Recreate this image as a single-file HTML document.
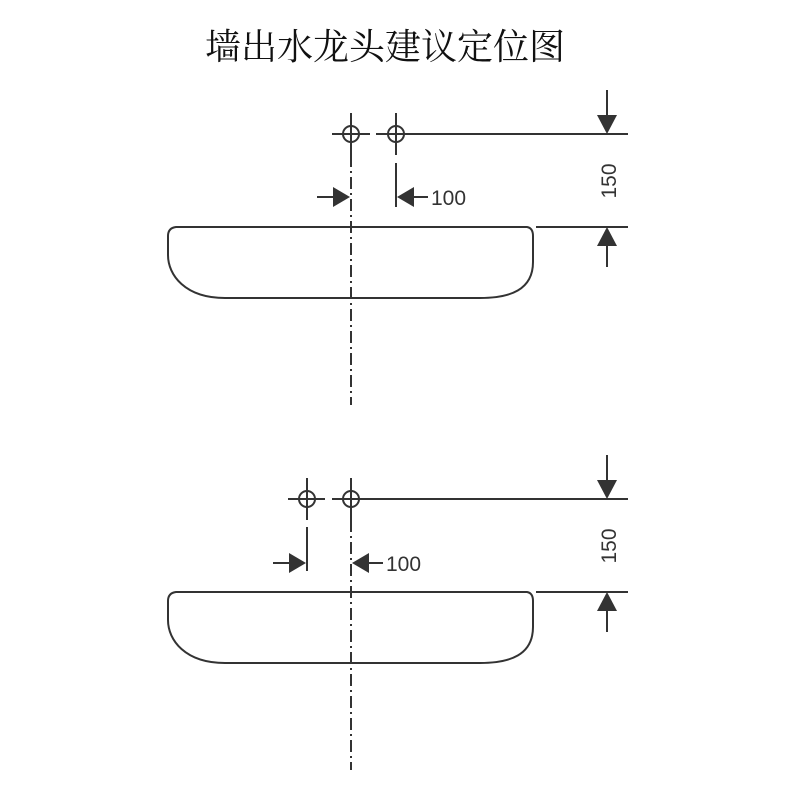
<!DOCTYPE html>
<html><head><meta charset="utf-8"><style>
html,body{margin:0;padding:0;background:#fff;width:800px;height:800px;overflow:hidden}
</style></head><body>
<svg width="800" height="800" viewBox="0 0 800 800" xmlns="http://www.w3.org/2000/svg">
<text x="385" y="59" text-anchor="middle" font-family="'Liberation Serif','Noto Serif CJK SC',serif" font-size="36" fill="#111">墙出水龙头建议定位图</text>
<defs>
<g id="basin" fill="none" stroke="#333" stroke-width="2">
<path d="M176,227 L527,227 Q533,228 533,236 L533,262 C533,290 510,298 480,298 L225,298 C185,298 168,275 168,255 L168,236 Q168,228 176,227 Z"/>
<line x1="536" y1="227" x2="628" y2="227"/>
<line x1="607" y1="90" x2="607" y2="118"/>
<line x1="607" y1="243" x2="607" y2="267"/>
</g>
<g id="heads" fill="#333" stroke="none">
<polygon points="597,115 617,115 607,134"/>
<polygon points="597,246 617,246 607,227"/>
</g>
</defs>

<g fill="none" stroke="#333" stroke-width="2">
<use href="#basin"/>
<line x1="376" y1="134" x2="628" y2="134"/>
<line x1="332" y1="134" x2="370" y2="134"/>
<circle cx="351" cy="134" r="8"/>
<circle cx="396" cy="134" r="8"/>
<line x1="351" y1="113" x2="351" y2="155"/>
<line x1="396" y1="113" x2="396" y2="155"/>
<line x1="396" y1="163" x2="396" y2="207"/>
<line x1="351" y1="155" x2="351" y2="405" stroke-dasharray="12,4,2,4"/>
<line x1="317" y1="197" x2="336" y2="197"/>
<line x1="411" y1="197" x2="428" y2="197"/>
</g>
<use href="#heads"/>
<polygon points="333,187 333,207 350,197" fill="#333"/>
<polygon points="414,187 414,207 397,197" fill="#333"/>
<text x="431" y="205" font-family="'Liberation Sans',sans-serif" font-size="21" fill="#333">100</text>
<text transform="translate(616,181) rotate(-90)" text-anchor="middle" font-family="'Liberation Sans',sans-serif" font-size="21" fill="#333">150</text>

<g transform="translate(0,365)">
<g fill="none" stroke="#333" stroke-width="2">
<use href="#basin"/>
<line x1="332" y1="134" x2="628" y2="134"/>
<line x1="288" y1="134" x2="325" y2="134"/>
<circle cx="307" cy="134" r="8"/>
<circle cx="351" cy="134" r="8"/>
<line x1="307" y1="113" x2="307" y2="155"/>
<line x1="307" y1="162" x2="307" y2="206"/>
<line x1="351" y1="113" x2="351" y2="155"/>
<line x1="351" y1="155" x2="351" y2="405" stroke-dasharray="12,4,2,4"/>
<line x1="273" y1="198" x2="292" y2="198"/>
<line x1="366" y1="198" x2="383" y2="198"/>
</g>
<use href="#heads"/>
<polygon points="289,188 289,208 306,198" fill="#333"/>
<polygon points="369,188 369,208 352,198" fill="#333"/>
<text x="386" y="206" font-family="'Liberation Sans',sans-serif" font-size="21" fill="#333">100</text>
<text transform="translate(616,181) rotate(-90)" text-anchor="middle" font-family="'Liberation Sans',sans-serif" font-size="21" fill="#333">150</text>
</g>
</svg>
</body></html>
